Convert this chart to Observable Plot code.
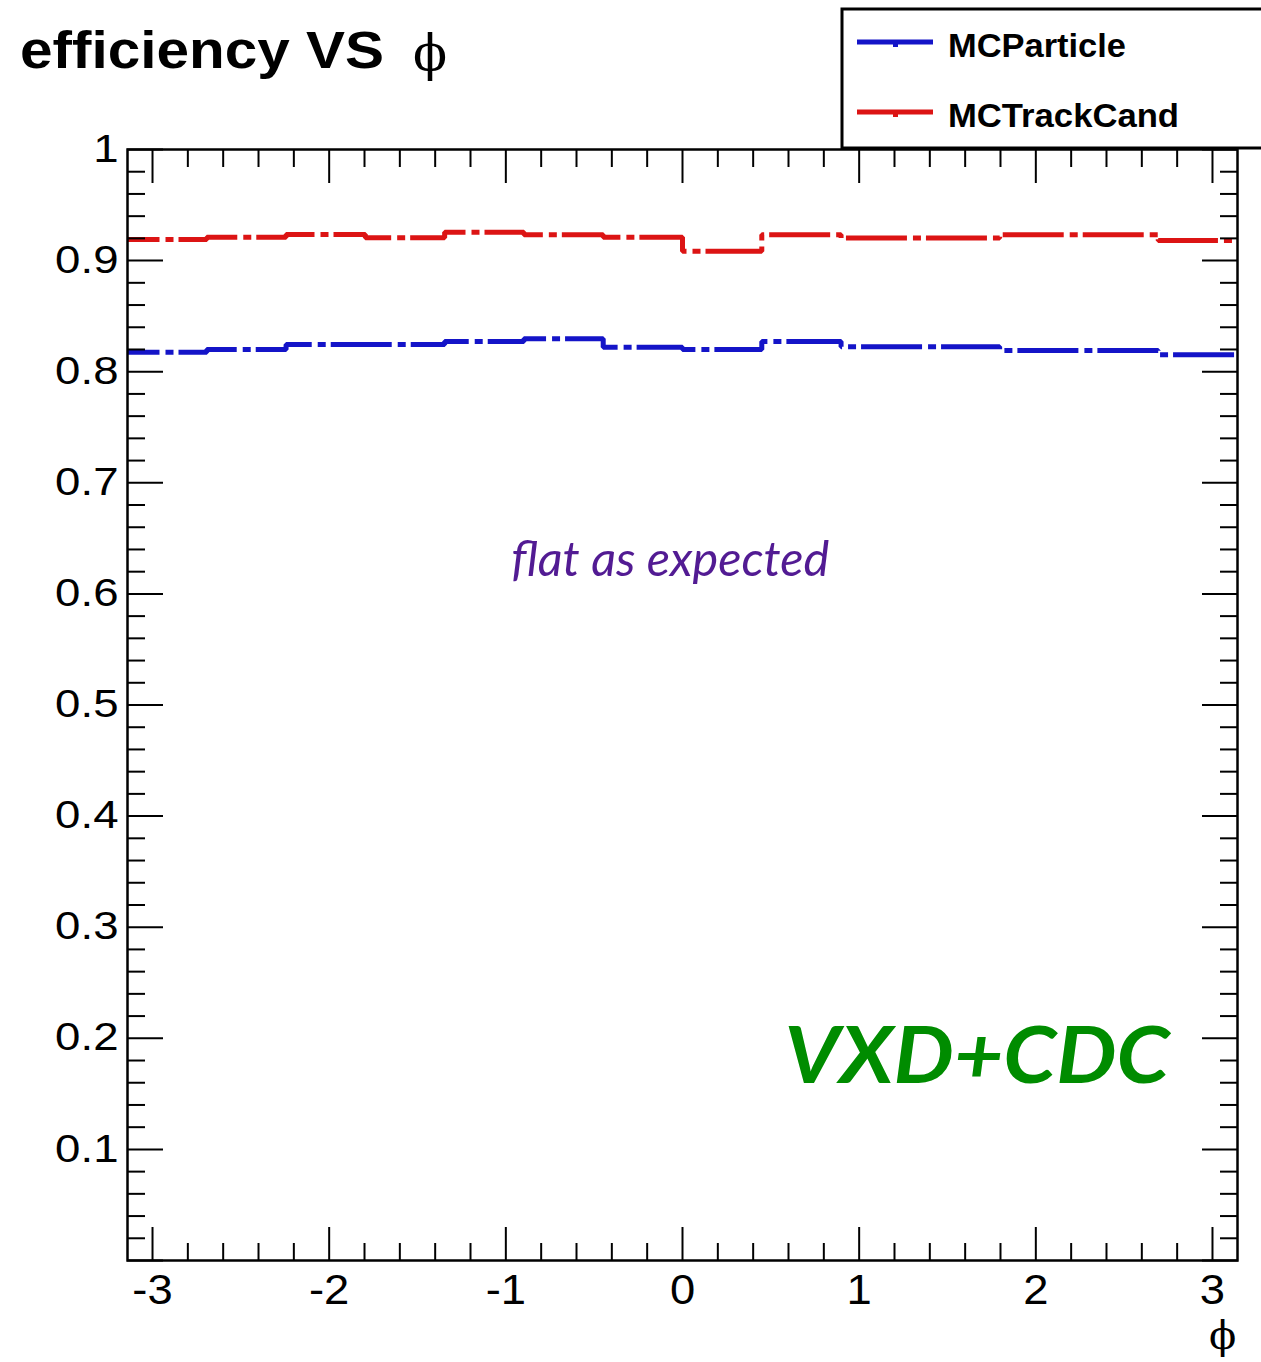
<!DOCTYPE html>
<html><head><meta charset="utf-8">
<script src="https://cdn.jsdelivr.net/npm/d3@7"></script>
<script src="https://cdn.jsdelivr.net/npm/@observablehq/plot@0.6"></script>
<style>
html,body{margin:0;padding:0;background:#fff;}
#wrap{position:relative;width:1261px;height:1362px;overflow:hidden;background:#fff;}
#chart{position:absolute;left:0;top:0;}
#overlay{position:absolute;left:0;top:0;pointer-events:none;}
</style></head><body>
<div id="wrap"><div id="chart"></div>
<svg id="overlay" width="1261" height="1362" xmlns="http://www.w3.org/2000/svg">
  <text x="20" y="68" font-family="Liberation Sans, Arial, sans-serif" font-weight="bold" font-size="51" textLength="364" lengthAdjust="spacingAndGlyphs">efficiency VS</text>
  <text x="413" y="70" font-family="DejaVu Serif, serif" font-size="50">ϕ</text>
  <rect x="842" y="9" width="440" height="139" fill="#fff" stroke="#000" stroke-width="3"/>
  <line x1="857" x2="933" y1="42" y2="42" stroke="#1414c8" stroke-width="5"/>
  <rect x="893" y="42" width="5" height="5" fill="#1414c8"/>
  <text x="948" y="57" font-family="Liberation Sans, Arial, sans-serif" font-weight="bold" font-size="33" textLength="178" lengthAdjust="spacingAndGlyphs">MCParticle</text>
  <line x1="857" x2="933" y1="112" y2="112" stroke="#dc1414" stroke-width="5"/>
  <rect x="893" y="112" width="5" height="5" fill="#dc1414"/>
  <text x="948" y="127" font-family="Liberation Sans, Arial, sans-serif" font-weight="bold" font-size="33" textLength="231" lengthAdjust="spacingAndGlyphs">MCTrackCand</text>
  <text x="1209" y="1349" font-family="DejaVu Serif, serif" font-size="40">ϕ</text>
</svg></div>
<script>
const binCount = 14;
const seriesNames = ["MCParticle", "MCTrackCand"];
const seriesColors = ["#1414c8", "#dc1414"];
const mcParticle = [0.8175, 0.820, 0.8245, 0.8245, 0.8272, 0.8296, 0.822, 0.820, 0.8272, 0.8224, 0.8224, 0.8191, 0.8191, 0.8152];
const mcTrackCand = [0.919, 0.921, 0.9235, 0.9205, 0.9256, 0.9232, 0.921, 0.9085, 0.9232, 0.9203, 0.9203, 0.9232, 0.9232, 0.918];
const xMajorTicks = [-3, -2, -1, 0, 1, 2, 3];
const yLabelTicks = [0.1, 0.2, 0.3, 0.4, 0.5, 0.6, 0.7, 0.8, 0.9, 1];
const flatNote = [{text: "flat as expected", x: -0.07, y: 0.63}];
const detNote = [{text: "VXD+CDC", x: 1.667, y: 0.182}];

const edges = d3.range(binCount + 1).map(i => -Math.PI + i * 2 * Math.PI / binCount);
const rows = [];
[mcParticle, mcTrackCand].forEach((vals, s) => {
  vals.forEach((v, i) => rows.push({series: seriesNames[s], phi: edges[i], eff: v}));
  rows.push({series: seriesNames[s], phi: edges[binCount], eff: vals[binCount - 1]});
});
const xMinorTicks = d3.range(-15, 16).filter(i => i % 5 !== 0).map(i => +(i * 0.2).toFixed(2));
const yMajorTicks = d3.range(0, 11).map(i => i / 10);
const yMinorTicks = d3.range(0, 51).filter(i => i % 5 !== 0).map(i => i / 50);

const tickOpts = {fill: "none", strokeWidth: 2, label: null};
const chart = Plot.plot({
  width: 1261, height: 1362,
  marginLeft: 127, marginRight: 24, marginTop: 149, marginBottom: 102,
  x: {domain: [-Math.PI, Math.PI]},
  y: {domain: [0, 1]},
  color: {domain: seriesNames, range: seriesColors},
  style: {fontFamily: "Liberation Sans, Arial, sans-serif", fontSize: "38px", color: "black", background: "white", overflow: "visible"},
  marks: [
    Plot.line(rows, {x: "phi", y: "eff", z: "series", stroke: "series", curve: "step-after",
      strokeWidth: 5, strokeDasharray: "61,6,8,5", strokeDashoffset: 29, strokeLinecap: "butt", strokeLinejoin: "miter"}),
    Plot.axisX({anchor: "bottom", ticks: xMajorTicks, tickSize: -33, ...tickOpts}),
    Plot.axisX({anchor: "bottom", ticks: xMinorTicks, tickSize: -17, ...tickOpts}),
    Plot.axisX({anchor: "top", ticks: xMajorTicks, tickSize: -33, ...tickOpts}),
    Plot.axisX({anchor: "top", ticks: xMinorTicks, tickSize: -17, ...tickOpts}),
    Plot.axisY({anchor: "left", ticks: yMajorTicks, tickSize: -36, ...tickOpts}),
    Plot.axisY({anchor: "left", ticks: yMinorTicks, tickSize: -18, ...tickOpts}),
    Plot.axisY({anchor: "right", ticks: yMajorTicks, tickSize: -36, ...tickOpts}),
    Plot.axisY({anchor: "right", ticks: yMinorTicks, tickSize: -18, ...tickOpts}),
    Plot.axisX({anchor: "bottom", ticks: xMajorTicks, tickSize: 0, tickPadding: 14, stroke: "none", label: null, fontSize: 42, tickFormat: d => String(d).replace("\u2212", "-")}),
    Plot.axisY({anchor: "left", ticks: yLabelTicks, tickSize: 0, tickPadding: 9, stroke: "none", label: null, fontSize: 38, tickFormat: d => d === 1 ? "1" : d.toFixed(1)}),
    Plot.frame({stroke: "black", strokeWidth: 2.5}),
    Plot.text(flatNote, {x: "x", y: "y", text: "text", fill: "#521b93", fontSize: 48, fontStyle: "italic", fontFamily: "Lato, sans-serif", textAnchor: "middle"}),
    Plot.text(detNote, {x: "x", y: "y", text: "text", fill: "#008c00", fontSize: 78, fontStyle: "italic", fontWeight: "bold", fontFamily: "Lato, sans-serif", textAnchor: "middle"})
  ]
});
document.getElementById("chart").appendChild(chart);

// ROOT renders its axis digits a bit wider than Helvetica: stretch them horizontally about their anchor
chart.querySelectorAll('g[aria-label="y-axis tick label"] text').forEach(t => {
  t.setAttribute("transform", (t.getAttribute("transform") || "") + " scale(1.2,1)");
});
chart.querySelectorAll('g[aria-label="x-axis tick label"] text').forEach(t => {
  t.setAttribute("transform", (t.getAttribute("transform") || "") + " scale(1.08,1)");
});
chart.querySelectorAll("text").forEach(t => {
  if (t.textContent === "VXD+CDC") { t.setAttribute("textLength", "385"); t.setAttribute("lengthAdjust", "spacingAndGlyphs"); }
  if (t.textContent === "flat as expected") { t.setAttribute("textLength", "318"); t.setAttribute("lengthAdjust", "spacingAndGlyphs"); }
});
</script>
</body></html>
